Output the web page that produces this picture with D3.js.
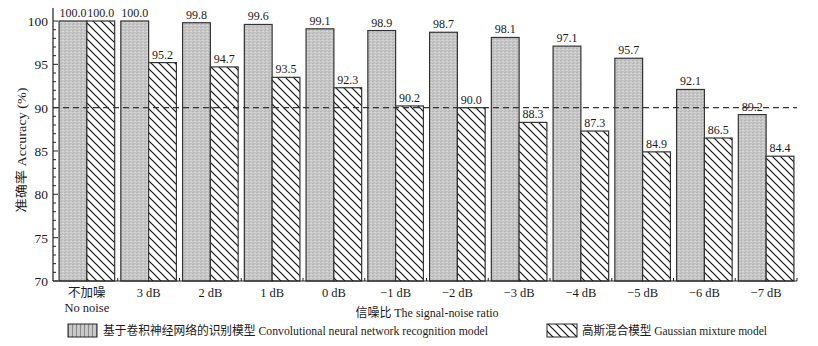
<!DOCTYPE html>
<html><head><meta charset="utf-8">
<script src="https://cdn.jsdelivr.net/npm/d3@7"></script>
<style>
body{margin:0;background:#fff;}
text{font-family:"Liberation Serif","Times New Roman",serif;fill:#1a1a1a;}
.cjk{font-family:"Liberation Serif","Noto Sans CJK SC",serif;}
</style></head>
<body><svg id="c" width="818" height="346"></svg>
<script>
const categories = ["不加噪|No noise","3 dB","2 dB","1 dB","0 dB","−1 dB","−2 dB","−3 dB","−4 dB","−5 dB","−6 dB","−7 dB"];
const cnnValues = [100.0,100.0,99.8,99.6,99.1,98.9,98.7,98.1,97.1,95.7,92.1,89.2];
const gmmValues = [100.0,95.2,94.7,93.5,92.3,90.2,90.0,88.3,87.3,84.9,86.5,84.4];
const seriesNames = ["基于卷积神经网络的识别模型  Convolutional neural network recognition model","高斯混合模型 Gaussian mixture model"];
const yTicks = [70,75,80,85,90,95,100];
const refLine = 90;
const xTitle = "信噪比  The signal-noise ratio";
const yTitle = "准确率 Accuracy (%)";

const svg = d3.select("#c");
const defs = svg.append("defs");
const pg = defs.append("pattern").attr("id","gray").attr("patternUnits","userSpaceOnUse").attr("width",4).attr("height",3);
pg.append("rect").attr("width",4).attr("height",3).attr("fill","#c8c8c8");
pg.append("rect").attr("x",0).attr("y",0).attr("width",2).attr("height",1).attr("fill","#b6b6b6");
pg.append("rect").attr("x",2).attr("y",1).attr("width",2).attr("height",1).attr("fill","#d6d6d6");
pg.append("rect").attr("x",1).attr("y",2).attr("width",2).attr("height",1).attr("fill","#bdbdbd");
const pd = defs.append("pattern").attr("id","diag").attr("patternUnits","userSpaceOnUse").attr("width",8).attr("height",8);
pd.append("rect").attr("width",8).attr("height",8).attr("fill","#fff");
pd.append("path").attr("d","M-2,-2 L10,10 M-2,6 L2,10 M6,-2 L10,2").attr("stroke","#111").attr("stroke-width",1.2);
const pl = defs.append("pattern").attr("id","grayv").attr("patternUnits","userSpaceOnUse").attr("width",4).attr("height",4);
pl.append("rect").attr("width",4).attr("height",4).attr("fill","#c8c8c8");
pl.append("rect").attr("x",0).attr("width",1).attr("height",4).attr("fill","#8a8a8a");

const mLeft = 53, mRight = 797, mTop = 21, mBottom = 281;
const x = d3.scaleBand().domain(categories).range([56, mRight]).paddingInner(0.1).paddingOuter(0.05);
const xs = d3.scaleBand().domain([0,1]).range([0, x.bandwidth()]);
const y = d3.scaleLinear().domain([70,100]).range([mBottom, mTop]);

const g = svg.append("g");
categories.forEach((c,i)=>{
  const vals = [cnnValues[i], gmmValues[i]];
  vals.forEach((v,k)=>{
    g.append("rect").attr("x",x(c)+xs(k)).attr("y",y(v)).attr("width",xs.bandwidth()).attr("height",y(70)-y(v))
      .attr("fill", k===0 ? "url(#gray)" : "url(#diag)").attr("stroke","#333").attr("stroke-width",1.2);
    g.append("text").attr("x",x(c)+xs(k)+xs.bandwidth()/2).attr("y",y(v)-4).attr("text-anchor","middle")
      .attr("font-size",12).text(v.toFixed(1));
  });
});

svg.append("line").attr("x1",mLeft).attr("x2",mRight).attr("y1",y(refLine)).attr("y2",y(refLine))
  .attr("stroke","#333").attr("stroke-width",1.2).attr("stroke-dasharray","6,4");

const ya = svg.append("g");
ya.append("line").attr("x1",mLeft).attr("x2",mLeft).attr("y1",8).attr("y2",mBottom).attr("stroke","#222").attr("stroke-width",1.2);
d3.range(70,101,1).forEach(t=>{
  const major = t%5===0;
  ya.append("line").attr("x1",mLeft).attr("x2",mLeft+(major?5:3)).attr("y1",y(t)).attr("y2",y(t)).attr("stroke","#222").attr("stroke-width",1);
});
yTicks.forEach(t=>{
  ya.append("text").attr("x",mLeft-5).attr("y",y(t)+5).attr("text-anchor","end").attr("font-size",13.5).text(t);
});

const xa = svg.append("g");
xa.append("line").attr("x1",mLeft).attr("x2",mRight).attr("y1",mBottom).attr("y2",mBottom).attr("stroke","#222").attr("stroke-width",1.2);
categories.forEach((c,i)=>{
  if(i>0){
    const bx = x(c) - x.step()*x.paddingInner()/2;
    xa.append("line").attr("x1",bx).attr("x2",bx).attr("y1",mBottom).attr("y2",mBottom-3).attr("stroke","#222");
  }
  const parts = c.split("|");
  parts.forEach((p,j)=>{
    xa.append("text").attr("class","cjk").attr("x",x(c)+x.bandwidth()/2).attr("y",297+j*15).attr("text-anchor","middle")
      .attr("font-size",12.5).text(p);
  });
});
xa.append("line").attr("x1",mRight).attr("x2",mRight).attr("y1",mBottom).attr("y2",mBottom-3).attr("stroke","#222");

svg.append("text").attr("class","cjk").attr("x",427).attr("y",317).attr("text-anchor","middle").attr("font-size",12.5)
  .attr("textLength",143).attr("lengthAdjust","spacingAndGlyphs").text(xTitle);
svg.append("text").attr("class","cjk").attr("transform","translate(26,150) rotate(-90)").attr("text-anchor","middle").attr("font-size",12.5)
  .attr("textLength",125).attr("lengthAdjust","spacingAndGlyphs").text(yTitle);

const lg = svg.append("g");
lg.append("rect").attr("x",68).attr("y",324).attr("width",29).attr("height",13).attr("fill","url(#grayv)").attr("stroke","#222");
lg.append("text").attr("class","cjk").attr("x",103).attr("y",335).attr("font-size",12.5)
  .attr("textLength",385).attr("lengthAdjust","spacingAndGlyphs").text(seriesNames[0]);
lg.append("rect").attr("x",547).attr("y",324).attr("width",30).attr("height",13).attr("fill","url(#diag)").attr("stroke","#222");
lg.append("text").attr("class","cjk").attr("x",582).attr("y",335).attr("font-size",12.5)
  .attr("textLength",185).attr("lengthAdjust","spacingAndGlyphs").text(seriesNames[1]);
</script></body></html>
